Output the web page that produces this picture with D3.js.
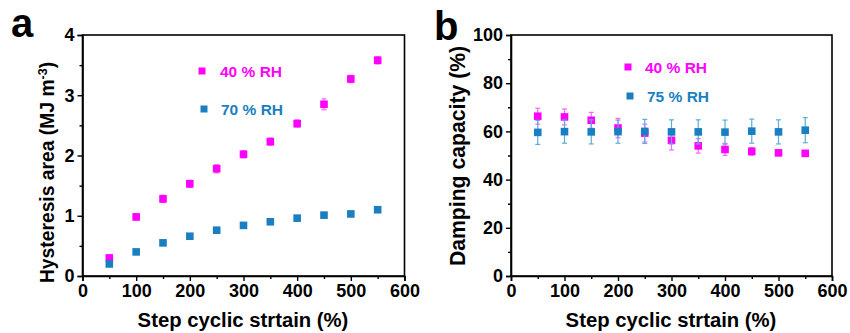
<!DOCTYPE html>
<html><head><meta charset="utf-8">
<script src="https://cdn.jsdelivr.net/npm/d3@7/dist/d3.min.js"></script>
<style>
body{margin:0;background:#fff;}
svg{display:block;font-family:"Liberation Sans",Arial,sans-serif;font-weight:bold;}
</style></head><body>
<svg id="c" width="850" height="333"></svg>
<script>
const strain = [50,100,150,200,250,300,350,400,450,500,550];
// panel a: hysteresis area (MJ m^-3)
const hystRH40 = [0.30,0.98,1.28,1.53,1.78,2.02,2.23,2.53,2.85,3.27,3.58];
const hystRH40Err = [0.04,0.05,0.06,0.06,0.07,0.06,0.06,0.06,0.09,0.06,0.06];
const hystRH70 = [0.20,0.40,0.55,0.66,0.76,0.84,0.90,0.96,1.01,1.03,1.10];
const hystRH70Err = [0.02,0.02,0.02,0.02,0.02,0.02,0.02,0.02,0.02,0.02,0.02];
// panel b: damping capacity (%)
const dampRH40 = [66.3,66.0,64.6,61.4,59.3,56.3,54.0,52.5,51.7,51.1,50.9];
const dampRH40Err = [3.3,3.3,3.3,4.0,3.7,4.0,3.0,2.5,1.6,1.0,1.0];
const dampRH75 = [59.6,59.9,59.8,59.9,60.0,59.8,59.8,59.7,60.1,59.8,60.5];
const dampRH75Err = [5.0,4.8,5.0,4.8,5.0,5.0,5.0,5.0,5.0,5.0,5.2];
const xTicks = [0,100,200,300,400,500,600];
const yTicksA = [0,1,2,3,4];
const yTicksB = [0,20,40,60,80,100];

const PINK = "#ff00ff", PINK_ERR = "#ff66ff";
const BLUE = "#1a7fc1", BLUE_ERR = "#5aaedb";
const svg = d3.select("#c");

function panel(opt){
  const g = svg.append("g");
  const x = d3.scaleLinear().domain([0,600]).range([opt.left,opt.right]);
  const y = d3.scaleLinear().domain(opt.yDomain).range([opt.bottom,opt.top]);
  // frame
  g.append("rect").attr("x",opt.left).attr("y",opt.top)
    .attr("width",opt.right-opt.left).attr("height",opt.bottom-opt.top)
    .attr("fill","none").attr("stroke","#000").attr("stroke-width",1.6);
  // x axis
  const xMinor = d3.range(50,600,100);
  g.append("g").attr("transform",`translate(0,${opt.bottom})`)
    .call(d3.axisBottom(x).tickValues(xTicks).tickSize(5).tickPadding(3).tickFormat(d3.format("d")));
  g.append("g").attr("transform",`translate(0,${opt.bottom})`)
    .call(d3.axisBottom(x).tickValues(xMinor).tickSize(3).tickFormat(""))
    .call(s=>s.select(".domain").remove());
  // y axis
  g.append("g").attr("transform",`translate(${opt.left},0)`)
    .call(d3.axisLeft(y).tickValues(opt.yTicks).tickSize(5).tickPadding(3).tickFormat(d3.format("d")));
  g.append("g").attr("transform",`translate(${opt.left},0)`)
    .call(d3.axisLeft(y).tickValues(opt.yMinor).tickSize(3).tickFormat(""))
    .call(s=>s.select(".domain").remove());
  g.selectAll(".tick line").attr("stroke","#000").attr("stroke-width",1.4);
  g.selectAll(".domain").attr("stroke","#000").attr("stroke-width",1.6);
  g.selectAll(".tick text").attr("fill","#000").style("font-size","18px")
    .style("font-family","'Liberation Sans',Arial,sans-serif").style("font-weight","bold");
  // series
  opt.series.forEach(s=>{
    const sg = g.append("g");
    strain.forEach((xv,i)=>{
      const cx = x(xv), v = s.vals[i], e = s.err[i];
      const y1 = y(v+e), y2 = y(v-e);
      sg.append("line").attr("x1",cx).attr("x2",cx).attr("y1",y1).attr("y2",y2)
        .attr("stroke",s.errColor).attr("stroke-width",1.2);
      [y1,y2].forEach(yy=>sg.append("line").attr("x1",cx-2.5).attr("x2",cx+2.5)
        .attr("y1",yy).attr("y2",yy).attr("stroke",s.errColor).attr("stroke-width",1.2));
    });
    sg.selectAll("rect.m").data(s.vals).join("rect").attr("class","m")
      .attr("x",(d,i)=>x(strain[i])-3.8).attr("y",d=>y(d)-3.8)
      .attr("width",7.6).attr("height",7.6).attr("fill",s.color);
  });
  // legend
  opt.legend.forEach(l=>{
    g.append("rect").attr("x",l.mx-3.5).attr("y",l.my-3.5).attr("width",7).attr("height",7).attr("fill",l.color);
    g.append("text").attr("x",l.tx).attr("y",l.my+6).attr("fill",l.color)
      .style("font-size","15.5px").text(l.label);
  });
  // axis titles
  g.append("text").attr("x",(opt.left+opt.right)/2-0.5).attr("y",327)
    .attr("text-anchor","middle").style("font-size","20.3px").attr("fill","#000").text("Step cyclic strtain (%)");
  const yt = g.append("text").attr("transform",`translate(${opt.yTitleX},${opt.yTitleY}) rotate(-90)`)
    .attr("text-anchor","middle").style("font-size",opt.yTitleSize).attr("fill","#000");
  opt.yTitle(yt);
  // panel letter
  g.append("text").attr("x",opt.letterX).attr("y",opt.letterY).style("font-size","40px")
    .attr("fill","#000").text(opt.letter);
}

panel({left:82.5,right:404.5,top:35,bottom:276,yDomain:[0,4],yTicks:yTicksA,
  yMinor:[0.5,1.5,2.5,3.5],letter:"a",letterX:11,letterY:37,
  yTitleX:54,yTitleY:172.5,yTitleSize:"19.3px",
  yTitle:t=>{t.append("tspan").text("Hysteresis area (MJ m");
    t.append("tspan").attr("dy",-7).style("font-size","12.5px").text("-3");
    t.append("tspan").attr("dy",7).text(")");},
  series:[{vals:hystRH40,err:hystRH40Err,color:PINK,errColor:PINK_ERR},
          {vals:hystRH70,err:hystRH70Err,color:BLUE,errColor:BLUE_ERR}],
  legend:[{mx:202,my:71,tx:220,color:PINK,label:"40 % RH"},
          {mx:204,my:109,tx:221,color:BLUE,label:"70 % RH"}]});

panel({left:511,right:832,top:35,bottom:276,yDomain:[0,100],yTicks:yTicksB,
  yMinor:[10,30,50,70,90],letter:"b",letterX:434,letterY:40,
  yTitleX:464.5,yTitleY:156,yTitleSize:"21.2px",
  yTitle:t=>t.text("Damping capacity (%)"),
  series:[{vals:dampRH40,err:dampRH40Err,color:PINK,errColor:PINK_ERR},
          {vals:dampRH75,err:dampRH75Err,color:BLUE,errColor:BLUE_ERR}],
  legend:[{mx:628,my:67,tx:645,color:PINK,label:"40 % RH"},
          {mx:630,my:96,tx:647,color:BLUE,label:"75 % RH"}]});
</script>
</body></html>
